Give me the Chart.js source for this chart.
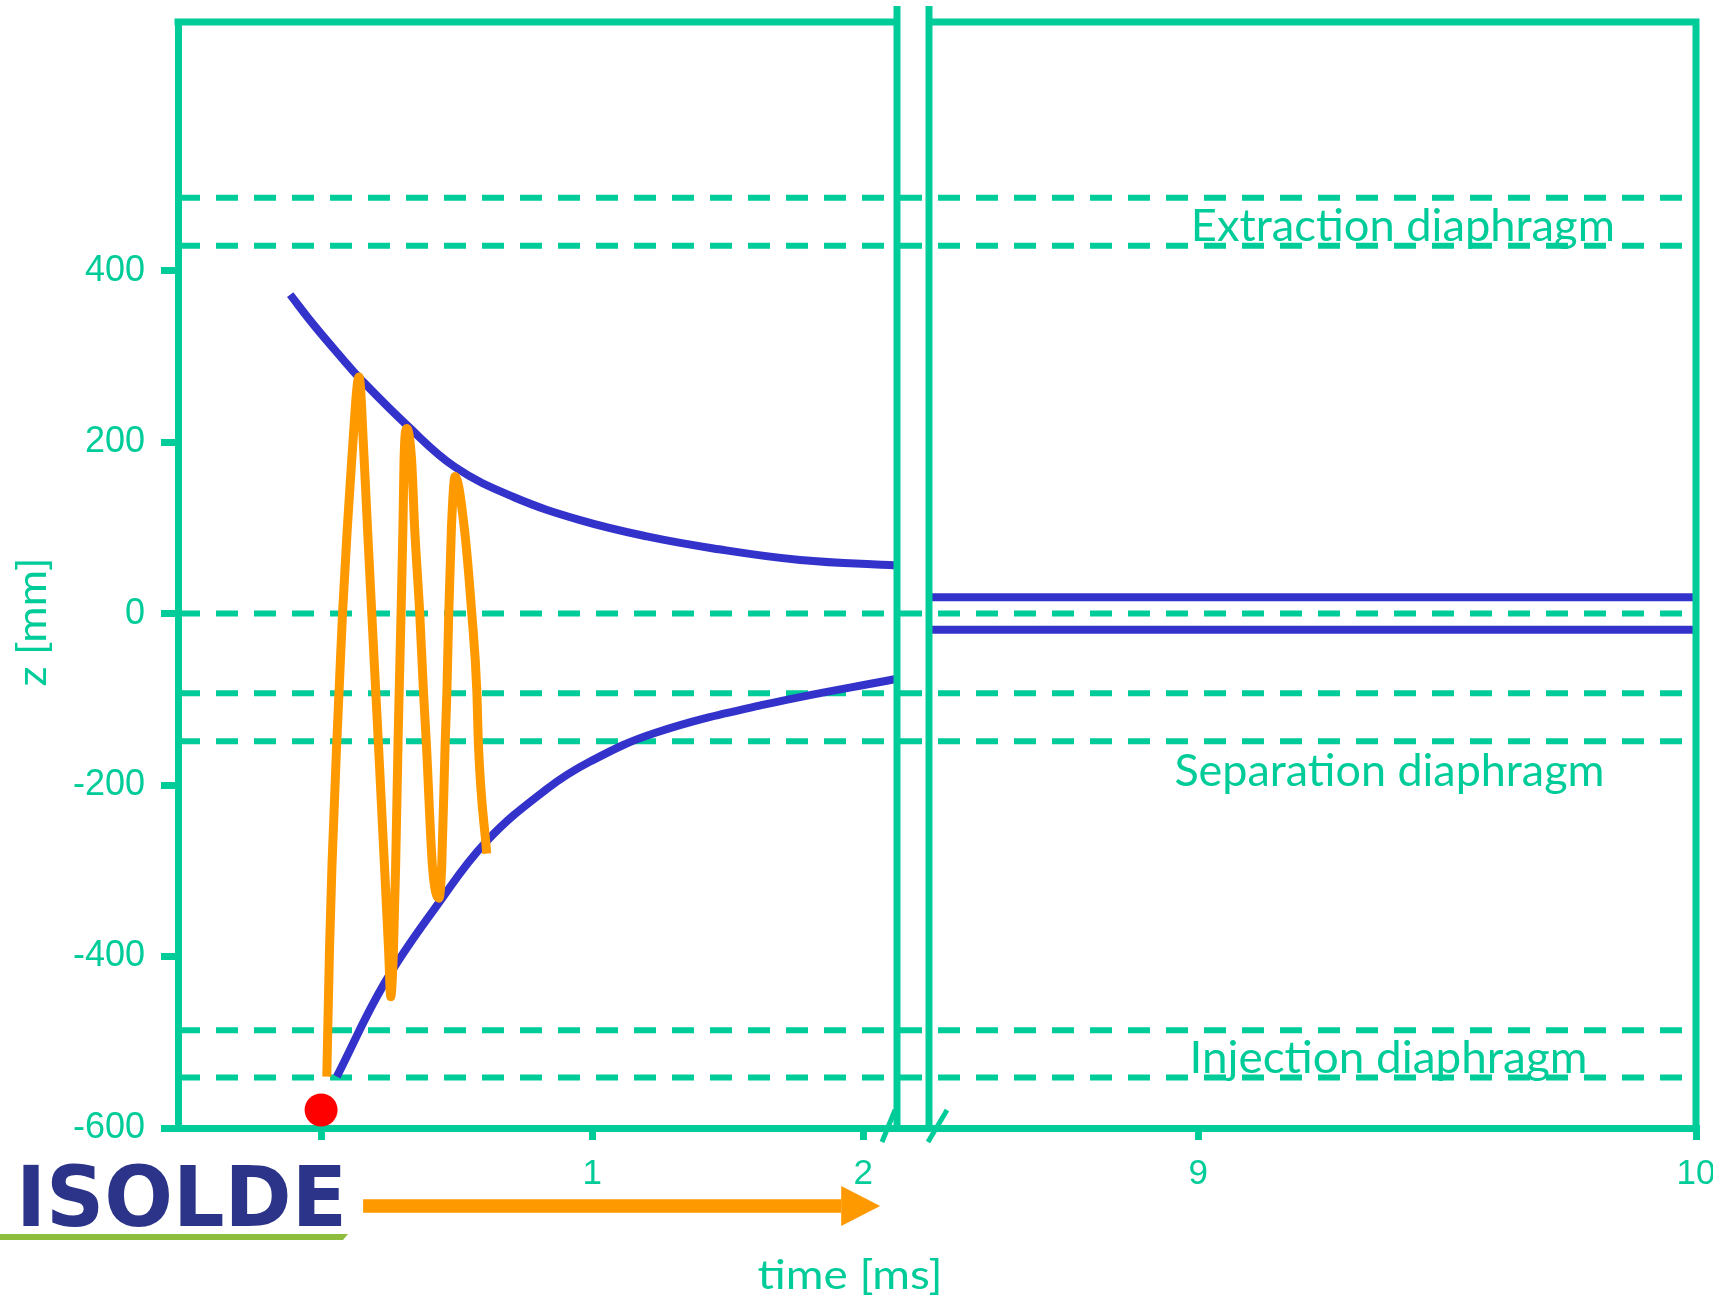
<!DOCTYPE html>
<html>
<head>
<meta charset="utf-8">
<title>Ion cooling in the trap</title>
<script src="https://cdn.jsdelivr.net/npm/chart.js@4.4.1/dist/chart.umd.min.js"></script>
<style>
  html, body { margin: 0; padding: 0; background: #ffffff; }
  canvas { display: block; }
</style>
</head>
<body>
<canvas id="trap" width="1713" height="1297"></canvas>
<script>
// ---- data -------------------------------------------------------------
// time axis is broken: a short window after injection, then the storage end
const timeLeft  = [-0.528, 2.125];   // ms shown left of the break
const timeRight = [8.459, 10];       // ms shown right of the break
const zRange    = [-600, 690];       // mm

const xTickValues = [0, 1, 2, 9, 10];
const xTickLabels = ['', '1', '2', '9', '10'];
const yTickValues = [-600, -400, -200, 0, 200, 400];

// electrode / diaphragm edges and trap centre (mm)
const diaphragmLevels = [485, 429, 0, -93, -149, -486, -541];
const diaphragmNames  = ['Extraction diaphragm', 'Separation diaphragm', 'Injection diaphragm'];

// envelope of the ion cloud while it cools (ms, mm)
const upperT = [-0.114, -0.028, 0.082, 0.138, 0.316, 0.494, 0.710, 0.956, 1.202, 1.448, 1.768, 2.125];
const upperZ = [372, 337, 296, 276, 220, 171, 136, 109, 90, 76, 62.5, 56];
const lowerT = [0.058, 0.234, 0.433, 0.609, 0.831, 0.996, 1.234, 1.638, 2.125];
const lowerZ = [-540, -431, -338, -266, -205, -172, -139, -106, -76];

// single ion trajectory (ms, mm)
const ionT = [0.021, 0.031, 0.040, 0.058, 0.066, 0.079, 0.097, 0.113, 0.140,
              0.159, 0.171, 0.187, 0.202, 0.211, 0.234, 0.249, 0.257,
              0.267, 0.275, 0.284, 0.288, 0.295, 0.302, 0.306, 0.316,
              0.334, 0.345, 0.364, 0.378, 0.388, 0.411, 0.435,
              0.445, 0.458, 0.464, 0.471, 0.481, 0.4945,
              0.528, 0.556, 0.575, 0.580, 0.611];
const ionZ = [-540, -392, -295, -149, -93, 0, 101, 179, 276,
              179, 101, 0, -93, -149, -295, -392, -447,
              -392, -295, -149, -93, 0, 101, 179, 216,
              179, 101, 0, -93, -149, -295, -332,
              -295, -149, -93, 0, 101, 160,
              101, 0, -93, -149, -280];

// cooled cloud held at the trap centre (ms, mm)
const storedT = [8.459, 10];
const storedZ = [19, -19];

// injection moment
const injectionT = [0];
const injectionZ = [-579];

const yTitle = 'z [mm]';
const xTitle = 'time [ms]';
const logoText = 'ISOLDE';

// ---- styling ----------------------------------------------------------
const TEAL = '#00CC99';
const BLUE = '#3333CC';
const ORANGE = '#FF9900';
const NAVY = '#2B3488';
const LEAF = '#8CBD3C';
const HAND_FONT = 'Lato, "Noto Sans", sans-serif';
const TICK_FONT = '"Liberation Sans", Arial, sans-serif';

// ---- broken linear time scale ----------------------------------------
class BrokenTimeScale extends Chart.LinearScale {
  static id = 'brokenTime';
  static defaults = { ...Chart.LinearScale.defaults, ticks: { ...Chart.LinearScale.defaults.ticks } };

  determineDataLimits() {
    this.min = this.options.leftMin;
    this.max = this.options.rightMax;
  }
  buildTicks() {
    return xTickValues.map(v => ({ value: v }));
  }
  _parts() {
    const o = this.options;
    const W = this.right - this.left;
    const w1 = W * o.leftShare;
    const g = W * o.gapShare;
    return { w1, g, w2: W - w1 - g };
  }
  getPixelForValue(value) {
    if (value === null || value === undefined || isNaN(value)) return NaN;
    const o = this.options;
    const { w1, g, w2 } = this._parts();
    if (value <= (o.leftMax + o.rightMin) / 2) {
      return this.left + (value - o.leftMin) / (o.leftMax - o.leftMin) * w1;
    }
    return this.left + w1 + g + (value - o.rightMin) / (o.rightMax - o.rightMin) * w2;
  }
  getValueForPixel(pixel) {
    const o = this.options;
    const { w1, g, w2 } = this._parts();
    const p = pixel - this.left;
    if (p <= w1 + g / 2) return o.leftMin + p / w1 * (o.leftMax - o.leftMin);
    return o.rightMin + (p - w1 - g) / w2 * (o.rightMax - o.rightMin);
  }
}
Chart.register(BrokenTimeScale);

// ---- frame, break marks and annotations ------------------------------
function fillFitted(ctx, text, width, font) {
  ctx.font = font;
  const k = width / ctx.measureText(text).width;
  ctx.scale(k, 1);
  ctx.fillText(text, 0, 0);
}

const trapDecor = {
  id: 'trapDecor',
  afterDraw(chart, args, opts) {
    const { ctx, chartArea: a, scales: { x, y } } = chart;
    const b1 = x.getPixelForValue(timeLeft[1]);
    const b2 = x.getPixelForValue(timeRight[0]);
    const lw = opts.frameWidth;

    ctx.save();
    ctx.strokeStyle = TEAL;
    ctx.lineWidth = lw;
    ctx.lineCap = 'butt';
    ctx.beginPath();
    ctx.moveTo(a.left - lw / 2, a.top); ctx.lineTo(b1, a.top);
    ctx.moveTo(b2, a.top); ctx.lineTo(a.right + lw / 2, a.top);
    ctx.moveTo(a.right, a.top); ctx.lineTo(a.right, a.bottom);
    ctx.moveTo(b1, a.top - 16); ctx.lineTo(b1, a.bottom);
    ctx.moveTo(b2, a.top - 16); ctx.lineTo(b2, a.bottom);
    ctx.stroke();

    // axis break slashes
    ctx.lineWidth = 5;
    ctx.beginPath();
    ctx.moveTo(b1 - 15, a.bottom + 14); ctx.lineTo(b1 - 2, a.bottom - 18);
    ctx.moveTo(b2 - 1, a.bottom + 14); ctx.lineTo(b2 + 18, a.bottom - 18);
    ctx.stroke();

    // diaphragm names
    ctx.fillStyle = TEAL;
    ctx.textAlign = 'center';
    ctx.textBaseline = 'alphabetic';
    opts.notes.forEach((n, i) => {
      ctx.save();
      ctx.translate(x.getPixelForValue(n.t), y.getPixelForValue(n.z));
      fillFitted(ctx, diaphragmNames[i], n.width, '44px ' + HAND_FONT);
      ctx.restore();
    });

    // axis titles
    ctx.textBaseline = 'middle';
    ctx.save();
    ctx.translate(opts.yTitle.x, opts.yTitle.y);
    ctx.rotate(-Math.PI / 2);
    fillFitted(ctx, yTitle, opts.yTitle.width, '40px ' + HAND_FONT);
    ctx.restore();
    ctx.save();
    ctx.translate(opts.xTitle.x, opts.xTitle.y);
    fillFitted(ctx, xTitle, opts.xTitle.width, '40px ' + HAND_FONT);
    ctx.restore();

    // time arrow
    const ax0 = x.getPixelForValue(opts.arrow.from);
    const ax1 = x.getPixelForValue(opts.arrow.to);
    const ay = a.bottom + opts.arrow.drop;
    ctx.fillStyle = ORANGE;
    ctx.fillRect(ax0, ay - 6.75, ax1 - 39 - ax0, 13.5);
    ctx.beginPath();
    ctx.moveTo(ax1 - 39, ay - 20);
    ctx.lineTo(ax1, ay);
    ctx.lineTo(ax1 - 39, ay + 20);
    ctx.closePath();
    ctx.fill();

    // logo
    const L = opts.logo;
    ctx.fillStyle = NAVY;
    ctx.textAlign = 'left';
    ctx.textBaseline = 'alphabetic';
    ctx.save();
    ctx.translate(L.x, L.baseline);
    fillFitted(ctx, logoText, L.width, '900 84px "DejaVu Sans", sans-serif');
    ctx.restore();
    ctx.fillStyle = LEAF;
    ctx.beginPath();
    ctx.moveTo(0, L.baseline + 8);
    ctx.lineTo(L.x + L.width + 1, L.baseline + 8);
    ctx.lineTo(L.x + L.width - 4, L.baseline + 14);
    ctx.lineTo(0, L.baseline + 14);
    ctx.closePath();
    ctx.fill();
    ctx.restore();
  }
};

// ---- datasets ---------------------------------------------------------
const pts = (ts, zs) => ts.map((t, i) => ({ x: t, y: zs[i] }));
const datasets = [];

diaphragmLevels.forEach(z => datasets.push({
  data: [{ x: timeLeft[0], y: z }, { x: timeRight[1], y: z }],
  borderColor: TEAL, borderWidth: 6, borderDash: [22, 16],
  pointRadius: 0, order: 4
}));

[[upperT, upperZ], [lowerT, lowerZ]].forEach(([ts, zs]) => datasets.push({
  data: pts(ts, zs),
  borderColor: BLUE, borderWidth: 8,
  tension: 0.4,
  pointRadius: 0, order: 3
}));

storedZ.forEach(z => datasets.push({
  data: storedT.map(t => ({ x: t, y: z })),
  borderColor: BLUE, borderWidth: 8,
  pointRadius: 0, order: 3
}));

datasets.push({
  data: pts(ionT, ionZ),
  borderColor: ORANGE, borderWidth: 9,
  cubicInterpolationMode: 'monotone',
  borderJoinStyle: 'round',
  pointRadius: 0, order: 2
});

datasets.push({
  data: pts(injectionT, injectionZ),
  showLine: false,
  pointRadius: 16.5, pointBorderWidth: 0,
  pointBackgroundColor: '#FF0000', pointBorderColor: '#FF0000',
  order: 1
});

// ---- chart ------------------------------------------------------------
new Chart(document.getElementById('trap'), {
  type: 'line',
  data: { datasets },
  plugins: [trapDecor],
  options: {
    responsive: false,
    animation: false,
    devicePixelRatio: 1,
    events: [],
    layout: { padding: { top: 22, right: 17, bottom: 0, left: 0 } },
    plugins: {
      legend: { display: false },
      tooltip: { enabled: false },
      trapDecor: {
        frameWidth: 7,
        notes: [
          { t: 9.411, z: 434, width: 424 },
          { t: 9.384, z: -201, width: 430 },
          { t: 9.382, z: -536, width: 398 }
        ],
        yTitle: { x: 33, y: 622, width: 129 },
        xTitle: { x: 850, y: 1276, width: 185 },
        arrow: { from: 0.155, to: 2.063, drop: 78 },
        logo: { x: 16, baseline: 1226, width: 331 }
      }
    },
    scales: {
      x: {
        type: 'brokenTime',
        position: 'bottom',
        leftMin: timeLeft[0], leftMax: timeLeft[1],
        rightMin: timeRight[0], rightMax: timeRight[1],
        leftShare: 0.47365, gapShare: 0.02108,
        grid: { display: true, drawOnChartArea: false, drawTicks: true, tickLength: 12, lineWidth: 7, color: TEAL },
        border: { display: true, width: 7, color: TEAL },
        ticks: {
          autoSkip: false, maxRotation: 0, minRotation: 0, padding: 13,
          color: TEAL, font: { family: TICK_FONT, size: 35 },
          callback: (v, i) => xTickLabels[i]
        },
        afterFit: s => { s.height = 169; s.paddingLeft = 0; s.paddingRight = 0; }
      },
      y: {
        type: 'linear',
        position: 'left',
        min: zRange[0], max: zRange[1],
        afterBuildTicks: s => { s.ticks = yTickValues.map(v => ({ value: v })); },
        grid: { display: true, drawOnChartArea: false, drawTicks: true, tickLength: 17, lineWidth: 7, color: TEAL },
        border: { display: true, width: 7, color: TEAL },
        ticks: {
          padding: 16, color: TEAL, font: { family: TICK_FONT, size: 36 },
          callback: v => String(v)
        },
        afterFit: s => { s.width = 178; s.paddingTop = 0; s.paddingBottom = 0; }
      }
    }
  }
});
</script>
</body>
</html>
